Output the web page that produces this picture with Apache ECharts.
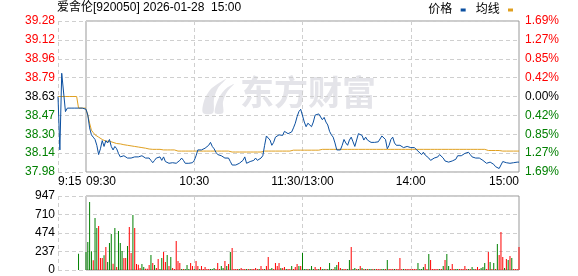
<!DOCTYPE html>
<html><head><meta charset="utf-8">
<script src="https://cdn.jsdelivr.net/npm/echarts@6/dist/echarts.min.js"></script>
<style>html,body{margin:0;padding:0;background:#fff}#c{width:578px;height:276px}</style>
</head><body><div id="c"></div>
<script>
const titleText = '爱舍伦[920050] 2026-01-28  15:00';
const priceMin = 37.98, priceMax = 39.28;
const priceTicks = ['37.98','38.14','38.30','38.47','38.63','38.79','38.96','39.12','39.28'];
const pctTicks = ['1.69%','1.27%','0.85%','0.42%','0.00%','0.42%','0.85%','1.27%','1.69%'];
const volMax = 947;
const volTicks = ['0','237','474','710','947'];
const preTickIdx = [0];
const preTickLabels = ['9:15'];
const mainTickIdx = [0, 60, 120, 180, 240];
const mainTickLabels = ['09:30', '10:30', '11:30/13:00', '14:00', '15:00'];
const mainSplitIdx = [60, 120, 180];

// pre-market auction 9:15 - 9:30
const prePrice = [38.63,38.17,38.83,38.83,38.50,38.53,38.52,38.53,38.52,38.53,38.53,38.53,38.53,38.53,38.53,38.52];
const preAvg   = [38.63,38.63,38.63,38.63,38.63,38.63,38.63,38.63,38.63,38.63,38.63,38.53,38.53,38.53,38.53,38.53];
const preVol   = [0,0,0,0,0,0,0,0,0,0,0,209,0,0,0,0];
const preDir   = 'GGGGGGGGGGGGGGGG';

const mainPrice = [
38.52,38.47,38.36,38.30,38.28,38.26,38.21,38.13,38.18,38.25,
38.20,38.25,38.23,38.26,38.20,38.17,38.20,38.18,38.14,38.11,
38.11,38.12,38.12,38.10,38.11,38.10,38.10,38.11,38.10,38.11,
38.12,38.12,38.11,38.10,38.10,38.10,38.08,38.06,38.08,38.10,
38.11,38.11,38.08,38.11,38.07,38.06,38.055,38.06,38.06,38.06,
38.055,38.07,38.08,38.10,38.08,38.055,38.055,38.055,38.055,38.06,
38.08,38.12,38.17,38.18,38.17,38.18,38.185,38.20,38.21,38.235,
38.20,38.18,38.15,38.13,38.14,38.12,38.11,38.10,38.10,38.10,
38.07,38.04,38.035,38.04,38.05,38.055,38.055,38.08,38.11,38.055,
38.055,38.07,38.07,38.08,38.10,38.08,38.09,38.10,38.12,38.21,
38.29,38.28,38.255,38.21,38.235,38.28,38.295,38.30,38.30,38.295,
38.33,38.325,38.31,38.31,38.325,38.36,38.40,38.456,38.50,38.52,
38.505,38.41,38.37,38.40,38.39,38.37,38.41,38.47,38.48,38.48,
38.485,38.43,38.45,38.41,38.385,38.33,38.30,38.28,38.23,38.17,
38.17,38.17,38.21,38.26,38.23,38.21,38.255,38.28,38.24,38.20,
38.255,38.31,38.31,38.295,38.255,38.28,38.255,38.24,38.235,38.23,
38.235,38.235,38.24,38.255,38.29,38.295,38.26,38.18,38.21,38.26,
38.28,38.23,38.21,38.21,38.21,38.20,38.19,38.20,38.20,38.19,
38.19,38.18,38.19,38.18,38.16,38.15,38.13,38.15,38.126,38.14,
38.10,38.08,38.09,38.10,38.10,38.11,38.13,38.126,38.10,38.075,
38.06,38.065,38.08,38.075,38.07,38.09,38.12,38.12,38.12,38.13,
38.14,38.15,38.15,38.13,38.11,38.10,38.10,38.10,38.10,38.10,
38.08,38.07,38.055,38.07,38.065,38.08,38.046,38.026,38.01,38.01,
38.026,38.07,38.075,38.06,38.07,38.055,38.06,38.06,38.06,38.065,
38.065];

const mainAvg = [
38.52,38.47,38.40,38.34,38.32,38.30,38.29,38.28,38.265,38.26,
38.25,38.245,38.245,38.245,38.235,38.235,38.232,38.225,38.225,38.222,
38.22,38.215,38.212,38.21,38.21,38.205,38.202,38.20,38.20,38.195,
38.192,38.19,38.187,38.185,38.18,38.178,38.175,38.175,38.175,38.175,
38.175,38.175,38.175,38.17,38.17,38.17,38.17,38.17,38.17,38.17,
38.17,38.16,38.16,38.16,38.16,38.16,38.16,38.16,38.16,38.16,
38.16,38.16,38.16,38.16,38.16,38.16,38.16,38.16,38.16,38.16,
38.16,38.16,38.16,38.16,38.16,38.16,38.16,38.16,38.16,38.16,
38.152,38.152,38.152,38.152,38.152,38.152,38.152,38.152,38.152,38.152,
38.152,38.152,38.152,38.152,38.152,38.152,38.152,38.152,38.152,38.16,
38.16,38.16,38.16,38.16,38.16,38.16,38.16,38.16,38.16,38.16,
38.16,38.16,38.16,38.16,38.16,38.168,38.168,38.168,38.168,38.168,
38.168,38.168,38.168,38.168,38.168,38.168,38.168,38.168,38.168,38.168,
38.168,38.175,38.175,38.175,38.175,38.175,38.175,38.175,38.175,38.175,
38.175,38.175,38.175,38.175,38.175,38.175,38.175,38.175,38.175,38.175,
38.175,38.175,38.175,38.175,38.175,38.175,38.175,38.175,38.175,38.175,
38.175,38.175,38.175,38.175,38.175,38.175,38.175,38.175,38.175,38.175,
38.175,38.175,38.175,38.175,38.175,38.175,38.175,38.175,38.175,38.175,
38.175,38.175,38.175,38.175,38.175,38.175,38.175,38.175,38.175,38.175,
38.175,38.175,38.175,38.175,38.175,38.175,38.175,38.175,38.175,38.175,
38.175,38.175,38.175,38.175,38.175,38.175,38.175,38.175,38.175,38.175,
38.175,38.175,38.175,38.175,38.175,38.175,38.175,38.175,38.175,38.175,
38.175,38.175,38.175,38.165,38.165,38.165,38.165,38.165,38.165,38.165,
38.16,38.16,38.16,38.16,38.16,38.16,38.16,38.16,38.16,38.16,
38.16];

const mainVol = [
231,359,871,239,124,666,538,564,154,154,
188,295,102,346,461,81,538,38,500,346,
243,154,154,307,551,218,704,538,77,68,
26,77,38,17,17,64,192,90,64,26,
141,13,154,231,102,192,51,167,26,13,
371,115,90,13,13,13,64,13,90,51,
13,115,51,13,51,13,38,13,13,13,
13,26,13,90,13,51,26,115,51,77,
231,282,13,13,13,13,26,13,13,13,
13,13,13,13,26,13,13,51,13,13,
51,167,13,26,13,90,51,90,26,26,
38,13,13,13,51,13,38,77,51,51,
218,13,13,13,13,51,13,38,13,13,
38,13,13,13,13,90,13,13,38,64,
102,26,13,13,13,13,128,295,13,26,
13,13,51,26,13,13,13,13,13,13,
13,13,13,13,13,13,13,128,13,13,
13,13,13,13,154,13,13,13,13,13,
13,13,13,13,90,13,13,38,77,13,
205,128,13,13,13,13,13,13,51,128,
205,51,13,77,13,13,13,13,13,13,
51,13,13,13,38,13,13,38,13,26,
38,90,13,231,102,13,90,13,333,192,
487,167,26,141,128,179,154,13,13,13,
295];

const mainDir =
'GGGGRGGRRR' + 'GRGGGRGRGG' + 'GRRGRRGRRR' + 'RGGRRRGRGR' + 'RGGRRGRGRR' +
'RRRGRGGGRR' + 'GRRGRRRRRG' + 'GGRRRGGRGR' + 'GRRRRGRRRG' + 'RGRRRRGRRG' +
'RRGGRRRRGR' + 'RGRRGRRRGR' + 'GGGRGGGRRG' + 'RGGRGGGRGG' + 'RRGRRGGRGG' +
'RGRGRGRGGR' + 'GRRRGGRGRR' + 'RGRRRRGRRR' + 'RRRRGGGGRR' + 'GRRRRRGRGR' +
'GGRRRGGRRR' + 'RRGRGGRRRG' + 'GGRRGRGRGR' + 'RRGRGRGRRR' + 'R';

const RED = '#ff0000', GREEN = '#008000', BLACK = '#000000';
const PRICE_COLOR = '#0b4fa0', AVG_COLOR = '#e0a020';
const WM = '#e4e4e9';
const FONT = '"Liberation Sans", Arial, "Noto Sans CJK SC", sans-serif';
const dash = { color: '#cfcfcf', type: [4, 3], width: 1 };

const preTimes = [];
for (let m = 15; m <= 30; m++) preTimes.push('9:' + String(m).padStart(2, '0'));
const mainTimes = [];
function pushRange(h0, m0, h1, m1) {
  for (let t = h0 * 60 + m0; t <= h1 * 60 + m1; t++) {
    mainTimes.push(String(Math.floor(t / 60)).padStart(2, '0') + ':' + String(t % 60).padStart(2, '0'));
  }
}
pushRange(9, 30, 11, 30);
pushRange(13, 1, 15, 0);

function levelColor(v) {
  const i = Math.round(Number(v));
  return i > 4 ? RED : (i === 4 ? BLACK : GREEN);
}
function bars(vals, dirs) {
  return vals.map((v, i) => ({ value: v, itemStyle: { color: dirs[i] === 'R' ? RED : GREEN } }));
}

const chart = echarts.init(document.getElementById('c'), null, { renderer: 'canvas' });
chart.setOption({
  animation: false,
  backgroundColor: '#fff',
  textStyle: { fontFamily: FONT },
  title: {
    text: titleText, left: 57, top: 2, padding: 0,
    textStyle: { fontSize: 12, fontWeight: 'normal', color: '#000', fontFamily: FONT }
  },
  legend: {
    data: ['价格', '均线'], right: 65, top: 4, padding: 0, align: 'right',
    icon: 'rect', itemWidth: 5, itemHeight: 3, itemGap: 10,
    formatter: n => n + ' ',
    textStyle: { fontSize: 12, color: '#000', fontFamily: FONT }
  },
  graphic: [
    { type: 'text', x: 240, y: 75, z: 0, silent: true,
      style: { text: '东方财富', font: 'bold 34px "Noto Sans CJK SC"', fill: WM } },
    { type: 'polygon', x: 201, y: 79, z: 0, silent: true,
      shape: { points: [[2,34],[3,22],[9,11],[18,4],[25,0],[17,9],[13,20],[12,34]], smooth: 0.3 },
      style: { fill: WM } },
    { type: 'polygon', x: 201, y: 79, z: 0, silent: true,
      shape: { points: [[14,34],[16,23],[21,14],[27,8],[33,5],[26,13],[22,23],[22,34]], smooth: 0.3 },
      style: { fill: WM } }
  ],
  grid: [
    { left: 58, top: 21, width: 28, height: 151 },
    { left: 86, top: 21, width: 433, height: 151, show: true, borderColor: '#999', borderWidth: 1, backgroundColor: 'transparent' },
    { left: 58, top: 196, width: 28, height: 74 },
    { left: 86, top: 196, width: 433, height: 74, show: true, borderColor: '#999', borderWidth: 1, backgroundColor: 'transparent' }
  ],
  xAxis: [
    { type: 'category', gridIndex: 0, data: preTimes, boundaryGap: false,
      axisLine: { show: false }, axisTick: { show: false },
      axisLabel: { interval: i => preTickIdx.includes(i), formatter: (v, i) => preTickLabels[preTickIdx.indexOf(i)],
        alignMinLabel: 'left', margin: 4, fontSize: 12, color: '#000', fontFamily: FONT },
      splitLine: { show: true, interval: i => i === 0, lineStyle: dash } },
    { type: 'category', gridIndex: 1, data: mainTimes, boundaryGap: false,
      axisLine: { show: false }, axisTick: { show: false },
      axisLabel: { interval: i => mainTickIdx.includes(i), formatter: (v, i) => mainTickLabels[mainTickIdx.indexOf(i)],
        alignMinLabel: 'left', alignMaxLabel: 'right', margin: 4, fontSize: 12, color: '#000', fontFamily: FONT },
      splitLine: { show: true, interval: i => mainSplitIdx.includes(i), lineStyle: dash } },
    { type: 'category', gridIndex: 2, data: preTimes, boundaryGap: false,
      axisLine: { show: false }, axisTick: { show: false }, axisLabel: { show: false },
      splitLine: { show: true, interval: i => i === 0, lineStyle: dash } },
    { type: 'category', gridIndex: 3, data: mainTimes, boundaryGap: false,
      axisLine: { show: false }, axisTick: { show: false }, axisLabel: { show: false },
      splitLine: { show: true, interval: i => mainSplitIdx.includes(i), lineStyle: dash } }
  ],
  yAxis: [
    { type: 'value', gridIndex: 0, position: 'left', min: 0, max: 8, interval: 1,
      axisLine: { show: false }, axisTick: { show: false },
      axisLabel: { formatter: v => priceTicks[Math.round(v)], color: v => levelColor(v), margin: 3, fontSize: 12, fontFamily: FONT },
      splitLine: { show: true, lineStyle: dash } },
    { type: 'value', gridIndex: 0, min: priceMin, max: priceMax, show: false },
    { type: 'value', gridIndex: 1, position: 'right', min: 0, max: 8, interval: 1,
      axisLine: { show: false }, axisTick: { show: false },
      axisLabel: { formatter: v => pctTicks[Math.round(v)], color: v => levelColor(v), margin: 6, fontSize: 12, fontFamily: FONT },
      splitLine: { show: true, lineStyle: dash } },
    { type: 'value', gridIndex: 1, min: priceMin, max: priceMax, show: false },
    { type: 'value', gridIndex: 2, position: 'left', min: 0, max: 4, interval: 1,
      axisLine: { show: false }, axisTick: { show: false },
      axisLabel: { formatter: v => volTicks[Math.round(v)], color: '#000', margin: 3, fontSize: 12, fontFamily: FONT },
      splitLine: { show: true, lineStyle: dash } },
    { type: 'value', gridIndex: 2, min: 0, max: volMax, show: false },
    { type: 'value', gridIndex: 3, position: 'right', min: 0, max: 4, interval: 1,
      axisLine: { show: false }, axisTick: { show: false }, axisLabel: { show: false },
      splitLine: { show: true, lineStyle: dash } },
    { type: 'value', gridIndex: 3, min: 0, max: volMax, show: false }
  ],
  series: [
    { name: '价格', type: 'line', xAxisIndex: 0, yAxisIndex: 1, data: prePrice, symbol: 'none',
      lineStyle: { color: PRICE_COLOR, width: 1 }, itemStyle: { color: PRICE_COLOR }, z: 4 },
    { name: '均线', type: 'line', xAxisIndex: 0, yAxisIndex: 1, data: preAvg, symbol: 'none',
      lineStyle: { color: AVG_COLOR, width: 1 }, itemStyle: { color: AVG_COLOR }, z: 3 },
    { name: '价格', type: 'line', xAxisIndex: 1, yAxisIndex: 3, data: mainPrice, symbol: 'none',
      lineStyle: { color: PRICE_COLOR, width: 1 }, itemStyle: { color: PRICE_COLOR }, z: 4 },
    { name: '均线', type: 'line', xAxisIndex: 1, yAxisIndex: 3, data: mainAvg, symbol: 'none',
      lineStyle: { color: AVG_COLOR, width: 1 }, itemStyle: { color: AVG_COLOR }, z: 3 },
    { name: 'preVol', type: 'bar', xAxisIndex: 2, yAxisIndex: 5, data: bars(preVol, preDir), barWidth: 1 },
    { name: 'vol', type: 'bar', xAxisIndex: 3, yAxisIndex: 7, data: bars(mainVol, mainDir), barWidth: 1 }
  ]
});
</script>
</body></html>
